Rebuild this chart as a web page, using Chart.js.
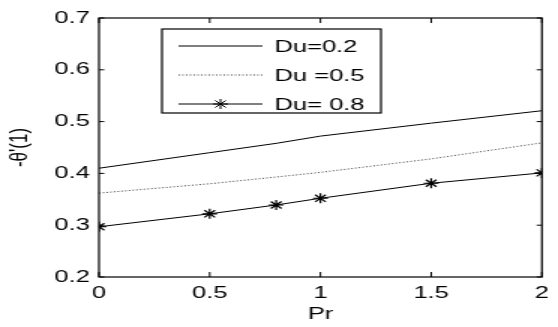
<!DOCTYPE html>
<html>
<head>
<meta charset="utf-8">
<script src="https://cdn.jsdelivr.net/npm/chart.js@4"></script>
<style>
  html, body { margin: 0; padding: 0; background: #fff; }
  #chart { display: block; }
</style>
</head>
<body>
<!-- the reference figure is stretched ~1.5x horizontally, so draw narrow and stretch -->
<canvas id="chart" width="372" height="327" style="width:558px;height:327px"></canvas>
<script>
// Data
const prValues = [0, 0.5, 0.8, 1, 1.5, 2];
const du02 = [0.41, 0.44, 0.458, 0.472, 0.497, 0.521];
const du05 = [0.362, 0.38, 0.393, 0.402, 0.428, 0.459];
const du08 = [0.297, 0.322, 0.339, 0.352, 0.381, 0.401];
const seriesLabels = ['Du=0.2', 'Du =0.5', 'Du= 0.8'];

const FONT = 'Liberation Sans, Arial, Helvetica, sans-serif';

function toPoints(ys) {
    return prValues.map((x, i) => ({ x: x, y: ys[i] }));
}

function drawStar(ctx, cx, cy, r) {
    const d = r * Math.SQRT1_2;
    ctx.beginPath();
    ctx.moveTo(cx - r, cy); ctx.lineTo(cx + r, cy);
    ctx.moveTo(cx, cy - r); ctx.lineTo(cx, cy + r);
    ctx.moveTo(cx - d, cy - d); ctx.lineTo(cx + d, cy + d);
    ctx.moveTo(cx - d, cy + d); ctx.lineTo(cx + d, cy - d);
    ctx.stroke();
}

// Box around the plot, inward ticks on all sides, and the legend inside
const matlabFrame = {
    id: 'matlabFrame',
    afterDatasetsDraw(chart) {
        const { ctx, chartArea: a, scales: { x, y } } = chart;
        ctx.save();
        ctx.strokeStyle = '#000';
        ctx.lineWidth = 1.2;
        ctx.strokeRect(a.left, a.top, a.right - a.left, a.bottom - a.top);

        ctx.lineWidth = 1;
        ctx.beginPath();
        x.ticks.forEach(t => {
            const px = x.getPixelForValue(t.value);
            ctx.moveTo(px, a.bottom); ctx.lineTo(px, a.bottom - 5);
            ctx.moveTo(px, a.top); ctx.lineTo(px, a.top + 5);
        });
        y.ticks.forEach(t => {
            const py = y.getPixelForValue(t.value);
            ctx.moveTo(a.left, py); ctx.lineTo(a.left + 3.5, py);
            ctx.moveTo(a.right, py); ctx.lineTo(a.right - 3.5, py);
        });
        ctx.stroke();

        // legend
        const box = { left: 108, top: 29, right: 254, bottom: 113 };
        ctx.fillStyle = '#fff';
        ctx.fillRect(box.left, box.top, box.right - box.left, box.bottom - box.top);
        ctx.lineWidth = 1.2;
        ctx.strokeRect(box.left, box.top, box.right - box.left, box.bottom - box.top);

        const rows = [46, 75, 104];
        ctx.font = '17px ' + FONT;
        ctx.textBaseline = 'middle';
        ctx.textAlign = 'left';
        chart.data.datasets.forEach((ds, i) => {
            const ry = rows[i];
            ctx.strokeStyle = ds.borderColor;
            ctx.lineWidth = ds.borderWidth;
            ctx.setLineDash(ds.borderDash || []);
            ctx.beginPath();
            ctx.moveTo(119, ry); ctx.lineTo(175, ry);
            ctx.stroke();
            ctx.setLineDash([]);
            if (ds.pointRadius > 0) {
                ctx.lineWidth = 1;
                drawStar(ctx, 147, ry, ds.pointRadius);
            }
            ctx.fillStyle = '#000';
            ctx.fillText(ds.label, 183, ry + 1);
        });
        ctx.restore();
    }
};

const tickFont = { family: FONT, size: 17 };

const config = {
    type: 'line',
    data: {
        datasets: [
            {
                label: seriesLabels[0],
                data: toPoints(du02),
                borderColor: '#000',
                borderWidth: 1,
                pointRadius: 0,
                tension: 0
            },
            {
                label: seriesLabels[1],
                data: toPoints(du05),
                borderColor: '#444',
                borderWidth: 1,
                borderDash: [1, 1.5],
                pointRadius: 0,
                tension: 0
            },
            {
                label: seriesLabels[2],
                data: toPoints(du08),
                borderColor: '#000',
                borderWidth: 1,
                pointStyle: 'star',
                pointRadius: 5,
                pointBorderWidth: 1.2,
                pointBorderColor: '#000',
                tension: 0
            }
        ]
    },
    options: {
        responsive: false,
        animation: false,
        layout: {
            padding: { left: 0, right: 8, top: 18, bottom: 0 }
        },
        plugins: {
            legend: { display: false },
            tooltip: { enabled: false }
        },
        scales: {
            x: {
                type: 'linear',
                min: 0,
                max: 2,
                grid: { display: false, drawTicks: false },
                border: { display: false },
                ticks: {
                    stepSize: 0.5,
                    color: '#000',
                    font: tickFont,
                    padding: 6,
                    maxRotation: 0,
                    callback: v => String(Math.round(v * 10) / 10)
                },
                title: {
                    display: true,
                    text: 'Pr',
                    color: '#000',
                    font: tickFont,
                    padding: { top: 0, bottom: 2 }
                },
                afterFit: s => { s.height = 50; }
            },
            y: {
                type: 'linear',
                min: 0.2,
                max: 0.7,
                grid: { display: false, drawTicks: false },
                border: { display: false },
                ticks: {
                    stepSize: 0.1,
                    color: '#000',
                    font: tickFont,
                    padding: 6,
                    callback: v => v.toFixed(1)
                },
                title: {
                    display: true,
                    text: "-\u03b8'(1)",
                    color: '#000',
                    font: tickFont,
                    padding: { top: 3, bottom: 0 }
                },
                afterFit: s => { s.width = 66; }
            }
        }
    },
    plugins: [matlabFrame]
};

const chart = new Chart(document.getElementById('chart'), config);
</script>
</body>
</html>
